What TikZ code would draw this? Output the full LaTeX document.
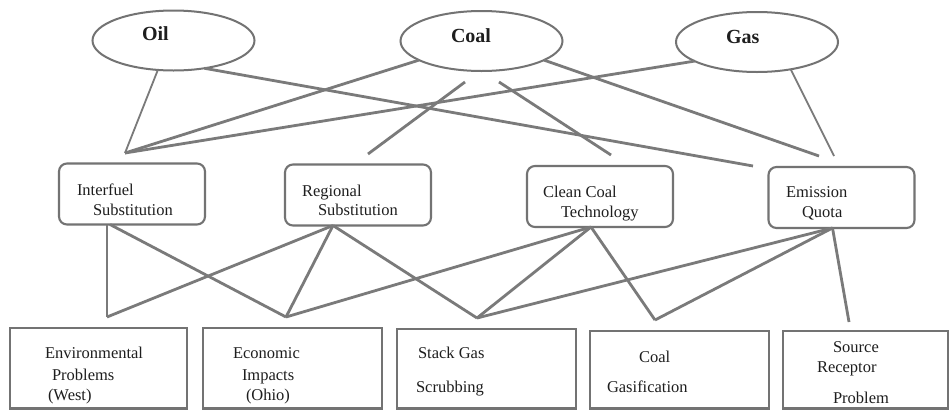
\documentclass[tikz,border=0pt]{standalone}
\usepackage{fontspec}
\setmainfont{Liberation Serif}
\usetikzlibrary{shapes.geometric}
\definecolor{ln}{RGB}{122,122,122}
\definecolor{bd}{RGB}{115,115,115}
\definecolor{tx}{RGB}{30,30,30}
\begin{document}
\begin{tikzpicture}[x=1pt,y=-1pt,
  fuel/.style={ellipse, draw=bd, line width=2pt, minimum width=162pt, minimum height=60pt, inner sep=0pt, outer sep=0pt},
  mid/.style={rectangle, rounded corners=8pt, draw=bd, line width=2.1pt, minimum width=146pt, minimum height=61pt, inner sep=0pt, outer sep=0pt},
  bot/.style={rectangle, draw=bd, line width=2.1pt, inner sep=0pt, outer sep=0pt},
  lbl/.style={anchor=base west, inner sep=0pt, outer sep=0pt, text=tx, font=\fontsize{16.5}{20}\selectfont},
  blbl/.style={anchor=base west, inner sep=0pt, outer sep=0pt, text=tx, font=\fontsize{20}{24}\selectfont\bfseries},
  link/.style={draw=ln, line width=2.8pt},
  thinlink/.style={draw=ln, line width=1.8pt}]
\useasboundingbox (0,0) rectangle (949,410);
\fill[white] (0,0) rectangle (949,410);

% top ellipses
\node[fuel] (oil) at (173.5,40.5) {};
\node[fuel] (coal) at (481.5,41) {};
\node[fuel] (gas) at (757,42) {};
\node[blbl] (toil) at (142,40) {Oil};
\node[blbl] (tcoal) at (451,42) {Coal};
\node[blbl] (tgas) at (726,43) {Gas};

% middle boxes
\node[mid] (ifs) at (132,194) {};
\node[mid] (reg) at (358,195) {};
\node[mid] (cc) at (600,196.5) {};
\node[mid] (eq) at (841.5,197.5) {};
\node[lbl] (tif1) at (77,195) {Interfuel};
\node[lbl] (tif2) at (93,215) {Substitution};
\node[lbl] (treg1) at (302,196) {Regional};
\node[lbl] (treg2) at (318,215) {Substitution};
\node[lbl] (tcc1) at (543,197) {Clean Coal};
\node[lbl] (tcc2) at (561,217) {Technology};
\node[lbl] (teq1) at (786,197) {Emission};
\node[lbl] (teq2) at (802,217) {Quota};

% bottom boxes
\node[bot, minimum width=177pt, minimum height=80.5pt] (env) at (98.5,368.25) {};
\node[bot, minimum width=179pt, minimum height=80.5pt] (eco) at (292.5,368.25) {};
\node[bot, minimum width=179pt, minimum height=79.5pt] (stk) at (486.5,368.75) {};
\node[bot, minimum width=179pt, minimum height=77.5pt] (gsf) at (679.5,369.75) {};
\node[bot, minimum width=165pt, minimum height=77.5pt] (src) at (865.5,369.75) {};
\node[lbl] (tenv1) at (45,358) {Environmental};
\node[lbl] (tenv2) at (52,380) {Problems};
\node[lbl] (tenv3) at (48,400) {(West)};
\node[lbl] (teco1) at (233,358) {Economic};
\node[lbl] (teco2) at (242,380) {Impacts};
\node[lbl] (teco3) at (246,400) {(Ohio)};
\node[lbl] (tstk1) at (418,358) {Stack Gas};
\node[lbl] (tstk2) at (416,392) {Scrubbing};
\node[lbl] (tgsf1) at (639,362) {Coal};
\node[lbl] (tgsf2) at (607,392) {Gasification};
\node[lbl] (tsrc1) at (833,352) {Source};
\node[lbl] (tsrc2) at (817,372) {Receptor};
\node[lbl] (tsrc3) at (833,403) {Problem};

% free ends
\coordinate (ift) at (125,153);
\coordinate (eqa) at (753,166);
\coordinate (eqb) at (819,156);
\coordinate (eqc) at (834,156);
\coordinate (ca1) at (465,82);
\coordinate (ca2) at (368,154);
\coordinate (cb1) at (499,82);
\coordinate (cb2) at (611,155);
\coordinate (pe) at (107,317);
\coordinate (pc) at (286,317);
\coordinate (ps) at (477,318);
\coordinate (pg) at (655,320);
\coordinate (pr) at (849,322);

% top connectors
\draw[thinlink] (oil.-118) -- (ift);
\draw[link] (oil.-42) -- (eqa);
\draw[link] (coal.-163) -- (ift);
\draw[link] (coal.-17) -- (eqb);
\draw[link] (gas.-163) -- (ift);
\draw[thinlink] (gas.-39) -- (eqc);
\draw[link] (ca1) -- (ca2);
\draw[link] (cb1) -- (cb2);

% lower connectors
\draw[link] ([xshift=-25pt]ifs.south) -- (pe);
\draw[link] ([xshift=-22pt]ifs.south) -- (pc);
\draw[link] ([xshift=-25pt]reg.south) -- (pe);
\draw[link] ([xshift=-25pt]reg.south) -- (pc);
\draw[link] ([xshift=-25pt]reg.south) -- (ps);
\draw[link] ([xshift=-9pt]cc.south) -- (pc);
\draw[link] ([xshift=-9pt]cc.south) -- (ps);
\draw[link] ([xshift=-9pt]cc.south) -- (pg);
\draw[link] ([xshift=-9pt]eq.south) -- (ps);
\draw[link] ([xshift=-9pt]eq.south) -- (pg);
\draw[link] ([xshift=-9pt]eq.south) -- (pr);
\end{tikzpicture}
\end{document}
